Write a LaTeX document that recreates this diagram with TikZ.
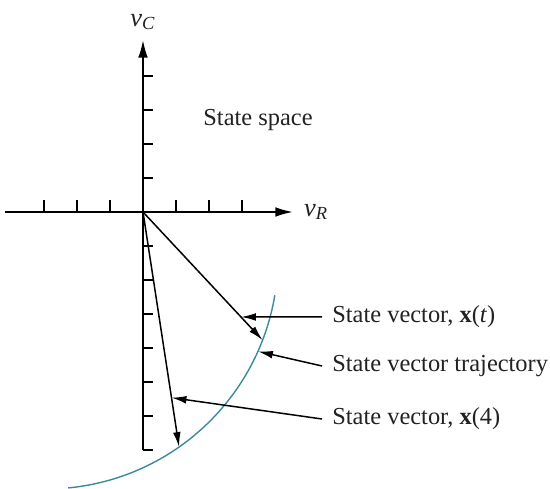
\documentclass[tikz,border=0pt]{standalone}
\usepackage{fontspec}
\setmainfont{Liberation Serif}
\usepackage{xcolor}
\usepackage{tikz}
\usetikzlibrary{arrows.meta, calc}
\definecolor{trajTeal}{HTML}{3A8C9C}
\definecolor{labelText}{HTML}{222222}

\begin{document}
\begin{tikzpicture}[x=0.02cm, y=0.02cm,
    every node/.style={font=\fontsize{13.9}{16}\selectfont, color=labelText},
    axis/.style={line width=1.1pt, -{Latex[length=10pt, width=5.5pt]}},
    tick/.style={line width=1.1pt},
    vec/.style={line width=0.85pt, -{Latex[length=8.5pt, width=4.4pt]}},
    lead/.style={line width=0.85pt, -{Latex[length=8.5pt, width=4.4pt]}},
    tag/.style={anchor=west, inner xsep=5.7pt, inner ysep=0pt}]
  \useasboundingbox (0,0) rectangle (550,489);
  % axes of the state space
  \coordinate (O) at (143,277);
  \draw[axis] (5,277) -- (293,277);
  \draw[axis] (143,39) -- (143,449);
  \node[font=\fontsize{15}{17}\selectfont] (vR) at (316,277) {\textit{v}\textsubscript{\textit{R}}};
  \node[font=\fontsize{15}{17}\selectfont] (vC) at (143,467) {\textit{v}\textsubscript{\textit{C}}};
  \foreach \k in {1,2,3} {
    \draw[tick] (143-33*\k,277) -- ++(0,12);
    \draw[tick] (143+33*\k,277) -- ++(0,12);
  }
  \foreach \k in {1,...,4} \draw[tick] (143,277+34*\k) -- ++(10,0);
  \foreach \k in {1,...,7} \draw[tick] (143,277-34*\k) -- ++(10,0);
  \node (space) at (258,369) {State space};
  % trajectory, an arc round (ctr)
  \coordinate (ctr) at (46,232);
  \draw[trajTeal, line width=0.8pt] ($(ctr)+(-84.5:232)$) arc[start angle=-84.5, end angle=-9.5, radius=232];
  \coordinate (xt) at ($(ctr)+(-21:232)$);
  \coordinate (x4) at ($(ctr)+(-55:232)$);
  \coordinate (onTraj) at ($(ctr)+(-24:232)$);
  % state vectors
  \draw[vec] (O) -- (xt);
  \draw[vec] (O) -- (x4);
  % labels and leaders
  \node[tag] (lblXt) at (322,172) {State vector, \textbf{x}(\textit{t})};
  \node[tag] (lblTraj) at (322,123) {State vector trajectory};
  \node[tag] (lblX4) at (322,70) {State vector, \textbf{x}(4)};
  \coordinate (hXt) at ($(lblXt.west)+(-200,0)$);
  \draw[lead] (lblXt.west) -- (intersection of O--xt and lblXt.west--hXt);
  \draw[lead] (lblTraj.west) -- (onTraj);
  \draw[lead] (lblX4.west) -- ($(O)!0.79!(x4)$);
\end{tikzpicture}
\end{document}
